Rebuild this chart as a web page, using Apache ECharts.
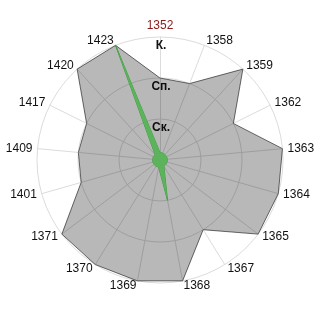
<!DOCTYPE html>
<html><head><meta charset="utf-8">
<script src="https://cdn.jsdelivr.net/npm/echarts@6/dist/echarts.min.js"></script>
<style>html,body{margin:0;padding:0;background:#fff}#c{width:320px;height:320px}</style>
</head><body><div id="c"></div>
<script>
// categories listed clockwise from the top
var categories = ['1352','1358','1359','1362','1363','1364','1365','1367','1368','1369','1370','1371','1401','1409','1417','1420','1423'];
var grayValues = [2,2,3,2,3,3,3,2,3,3,3,3,2,2,2,3,3];
var greenValues = [0.18,0.18,0.18,0.18,0.18,0.18,0.18,0.18,1,0.18,0.18,0.18,0.18,0.18,0.18,0.18,3];
var levelLabels = {1:'Ск.',2:'Сп.',3:'К.'};
var highlightCategory = '1352';

// ECharts radar runs counter-clockwise: keep the first at the top, reverse the rest
function cw(arr){ return [arr[0]].concat(arr.slice(1).reverse()); }

var chart = echarts.init(document.getElementById('c'), null, {renderer:'canvas'});
chart.setOption({
  animation:false,
  backgroundColor:'#fff',
  radar:{
    center:['50%','50%'], radius:123, startAngle:90, shape:'circle', splitNumber:3,
    nameGap:5,
    axisName:{color:'#111', fontFamily:'Liberation Sans, Arial, sans-serif', fontSize:12},
    indicator: cw(categories).map(function(c){
      var o = {name:c, min:0, max:3};
      if (c === highlightCategory) o.color = '#8b1a1a';
      return o;
    }),
    splitLine:{lineStyle:{color:'#dcdcdc', width:1}},
    splitArea:{show:false},
    axisLine:{lineStyle:{color:'#dcdcdc', width:1}},
    axisTick:{show:false}, axisLabel:{show:false}
  },
  polar:{center:['50%','50%'], radius:123},
  angleAxis:{type:'value', startAngle:90, show:false},
  radiusAxis:{type:'value', min:0, max:3, interval:1,
    axisLine:{show:false}, axisTick:{show:false}, splitLine:{show:false},
    axisLabel:{show:true, margin:0, align:'center', verticalAlign:'top', padding:[3,0,0,2],
      fontWeight:'bold', fontSize:12, color:'#111', fontFamily:'Liberation Sans, Arial, sans-serif',
      formatter:function(v){ return levelLabels[v] || ''; }}
  },
  series:[{
    type:'radar', symbol:'none', z:2,
    data:[{value:cw(grayValues),
      lineStyle:{color:'#707070', width:1},
      areaStyle:{color:'rgba(0,0,0,0.28)', opacity:1}}]
  },{
    type:'radar', symbol:'none', z:3,
    data:[{value:cw(greenValues),
      lineStyle:{color:'#3f9f3f', width:1},
      areaStyle:{color:'#5cb35c', opacity:1}}]
  }]
});
</script></body></html>
